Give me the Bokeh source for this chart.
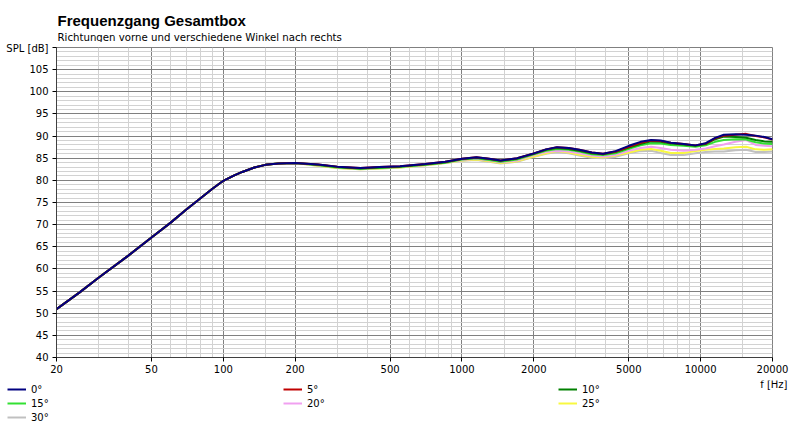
from bokeh.plotting import figure
from bokeh.layouts import column
from bokeh.models import Range1d, FixedTicker, Label, Legend, LegendItem
from bokeh.embed import file_html
from bokeh.resources import INLINE

# Frequenzgang (Hz / dB)
freq = [20, 25, 30, 40, 50, 60, 70, 80, 90, 100, 110, 120, 135, 150, 170, 200,
        250, 300, 375, 450, 550, 700, 850, 1000, 1150, 1300, 1450, 1700,
        2000, 2250, 2500, 2800, 3100, 3500, 3900, 4400, 5000, 5600, 6200, 6800,
        7500, 8500, 9500, 10500, 11500, 12500, 14000, 15500, 17000, 18500, 20000]

# unter 200 Hz liegen alle Winkel aufeinander
bass = [50.9, 54.7, 58.0, 63.0, 67.1, 70.4, 73.4, 75.9, 78.1, 79.9, 81.0, 81.9,
        82.9, 83.5, 83.8, 83.9]

spl_0 = bass + [83.6, 83.1, 82.8, 83.0, 83.2, 83.7, 84.2, 84.9, 85.2, 84.9, 84.5, 85.0,
                86.1, 87.0, 87.5, 87.3, 86.9, 86.3, 86.0, 86.6, 87.8, 88.7, 89.1, 89.0,
                88.5, 88.2, 87.9, 88.4, 89.6, 90.3, 90.4, 90.3, 90.1, 89.8, 89.3]
spl_5 = bass + [83.6, 83.1, 82.8, 83.0, 83.2, 83.7, 84.2, 84.9, 85.2, 84.9, 84.5, 85.0,
                86.1, 87.0, 87.5, 87.3, 86.9, 86.3, 86.0, 86.5, 87.6, 88.5, 89.0, 88.9,
                88.5, 88.2, 87.9, 88.3, 89.5, 90.1, 90.3, 90.5, 90.0, 89.7, 89.2]
spl_10 = bass + [83.5, 83.0, 82.7, 82.9, 83.1, 83.6, 84.1, 84.8, 85.1, 84.8, 84.4, 84.9,
                 86.0, 86.9, 87.3, 87.1, 86.7, 86.1, 85.9, 86.4, 87.4, 88.2, 88.8, 88.7,
                 88.3, 88.1, 87.8, 88.2, 89.3, 89.9, 89.8, 89.6, 89.1, 88.8, 88.7]
spl_15 = bass + [83.4, 82.9, 82.6, 82.8, 83.0, 83.5, 84.0, 84.7, 85.0, 84.6, 84.2, 84.7,
                 85.9, 86.7, 87.1, 86.9, 86.5, 85.9, 85.7, 86.1, 87.1, 87.9, 88.4, 88.3,
                 88.0, 87.8, 87.6, 87.9, 88.7, 89.1, 89.3, 89.2, 88.6, 88.3, 88.2]
spl_20 = bass + [83.4, 82.9, 82.6, 82.8, 83.0, 83.5, 84.0, 84.6, 84.9, 84.5, 84.1, 84.5,
                 85.7, 86.4, 86.7, 86.5, 86.1, 85.6, 85.4, 85.8, 86.7, 87.3, 87.6, 87.3,
                 86.9, 86.7, 86.9, 87.2, 87.7, 88.1, 88.7, 89.1, 88.0, 87.8, 87.7]
spl_25 = bass + [83.3, 82.8, 82.5, 82.7, 82.9, 83.4, 83.9, 84.5, 84.7, 84.3, 83.9, 84.3,
                 85.4, 86.1, 86.6, 86.3, 85.8, 85.3, 85.2, 85.6, 86.3, 86.9, 87.1, 86.7,
                 86.2, 86.2, 86.6, 86.9, 87.1, 87.2, 87.5, 87.6, 87.0, 86.9, 87.0]
spl_30 = bass + [83.3, 82.8, 82.5, 82.7, 82.9, 83.4, 83.9, 84.4, 84.6, 84.2, 83.8, 84.2,
                 85.3, 86.0, 86.4, 86.1, 85.6, 85.1, 85.0, 85.3, 86.1, 86.6, 86.7, 86.2,
                 85.7, 85.7, 86.1, 86.4, 86.5, 86.5, 86.8, 86.9, 86.4, 86.4, 86.5]

angles = ["0°", "5°", "10°", "15°", "20°", "25°", "30°"]
series = [spl_0, spl_5, spl_10, spl_15, spl_20, spl_25, spl_30]
colors = ["#000080", "#c00000", "#008000", "#33e033", "#f0a0f0", "#f8f840", "#c0c0c0"]

x_ticks = [20, 50, 100, 200, 500, 1000, 2000, 5000, 10000, 20000]
x_tick_labels = ["20", "50", "100", "200", "500", "1000", "2000", "5000", "10000", "20000"]
x_minor = [30, 40, 60, 70, 80, 90, 150, 300, 400, 600, 700, 800, 900, 1500,
           3000, 4000, 6000, 7000, 8000, 9000, 15000]
y_ticks = list(range(40, 111, 5))
y_tick_labels = [str(t) for t in y_ticks[:-1]] + ["SPL [dB]"]

font = "DejaVu Sans"
major_col = "#808080"
minor_col = "#d2d2d2"


def blank(h):
    # leere Fläche ohne Achsen für Texte und Legende
    f = figure(width=800, height=h, title=None, x_range=Range1d(0, 800), y_range=Range1d(0, h),
               x_axis_location=None, y_axis_location=None, output_backend="svg",
               toolbar_location=None, min_border=0)
    f.grid.visible = False
    f.outline_line_color = None
    return f


# Kopf mit Titel
head = blank(42)
head.add_layout(Label(x=57, y=22, x_units="screen", y_units="screen",
                      text="Frequenzgang Gesamtbox", text_font="Liberation Sans",
                      text_font_style="bold", text_font_size="15px", text_color="black",
                      text_baseline="alphabetic"))
head.add_layout(Label(x=57, y=5.5, x_units="screen", y_units="screen",
                      text="Richtungen vorne und verschiedene Winkel nach rechts",
                      text_font=font, text_font_size="10.2px", text_color="black",
                      text_baseline="alphabetic"))

# Diagramm
p = figure(width=800, height=338, title=None, x_axis_type="log",
           x_range=Range1d(20, 20000), y_range=Range1d(40, 110),
           output_backend="svg", toolbar_location=None,
           min_border_left=56, min_border_right=28, min_border_top=5, min_border_bottom=23)

p.outline_line_color = major_col

p.xaxis.ticker = FixedTicker(ticks=x_ticks, minor_ticks=x_minor)
p.xaxis.major_label_overrides = {t: l for t, l in zip(x_ticks, x_tick_labels)}
p.yaxis.ticker = FixedTicker(ticks=y_ticks, minor_ticks=list(range(40, 111)))
p.yaxis.major_label_overrides = {t: l for t, l in zip(y_ticks, y_tick_labels)}

for ax in (p.xaxis, p.yaxis):
    ax.axis_line_color = "#404040"
    ax.major_tick_line_color = "black"
    ax.major_tick_out = 4
    ax.major_tick_in = 0
    ax.minor_tick_line_color = None
    ax.major_label_text_font = font
    ax.major_label_text_font_size = "10px"
    ax.major_label_text_color = "black"
    ax.major_label_standoff = 4
p.xaxis.major_label_standoff = 3

p.xgrid.grid_line_color = major_col
p.ygrid.grid_line_color = major_col
p.xgrid.minor_grid_line_color = minor_col
p.ygrid.minor_grid_line_color = minor_col

# 30° zuerst, 0° liegt oben
for spl, col in reversed(list(zip(series, colors))):
    p.line(freq, spl, line_color=col, line_width=2)

# Legende in drei Spalten unter dem Diagramm; die Kurven liegen hier ausserhalb des Bereichs
foot = blank(49)
swatch = {n: foot.line(freq, spl, line_color=c, line_width=2)
          for n, spl, c in zip(angles, series, colors)}
columns = [(["0°", "15°", "30°"], 7, 5), (["5°", "20°"], 283, 19), (["10°", "25°"], 558, 19)]
for names, x0, y0 in columns:
    items = [LegendItem(label=n, renderers=[swatch[n]]) for n in names]
    leg = Legend(items=items, location=(x0, y0), orientation="vertical",
                 padding=0, margin=0, spacing=0,
                 glyph_width=19, glyph_height=14, label_height=14, label_standoff=5,
                 label_text_font=font, label_text_font_size="10px", label_text_color="black",
                 background_fill_alpha=0, border_line_color=None)
    foot.add_layout(leg)
foot.add_layout(Label(x=787, y=45, x_units="screen", y_units="screen", text="f [Hz]",
                      text_font=font, text_font_size="10px", text_color="black",
                      text_align="right", text_baseline="middle"))

layout = column(column(head), column(p), column(foot))
open("out.html", "w").write(file_html(layout, INLINE))
